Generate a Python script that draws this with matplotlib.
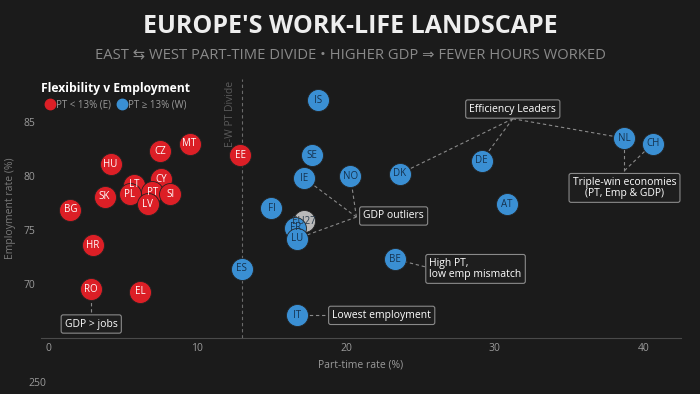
import matplotlib
matplotlib.use("Agg")
import matplotlib.pyplot as plt
from matplotlib.lines import Line2D

plt.rcParams['font.family'] = ['Open Sans', 'DejaVu Sans']

# country codes, part-time rate (%), employment rate (%)
codes = ['MT', 'CZ', 'HU', 'EE', 'CY', 'LT', 'PL', 'PT', 'SI', 'LV', 'SK', 'BG', 'HR', 'RO', 'EL',
         'ES', 'IS', 'SE', 'IE', 'NO', 'DK', 'FI', 'EU27', 'FR', 'LU', 'BE', 'IT', 'AT', 'DE', 'NL', 'CH']
part_time = [9.5, 7.5, 4.2, 12.9, 7.6, 5.8, 5.5, 7.0, 8.2, 6.7, 3.8, 1.5, 3.0, 2.9, 6.2,
             13.0, 18.1, 17.7, 17.2, 20.3, 23.6, 15.0, 17.2, 16.6, 16.7, 23.3, 16.7, 30.8, 29.1, 38.7, 40.6]
employment = [83.0, 82.3, 81.1, 81.9, 79.7, 79.2, 78.3, 78.5, 78.3, 77.4, 78.1, 76.9, 73.6, 69.5, 69.3,
              71.4, 87.0, 81.9, 79.8, 80.0, 80.2, 77.0, 75.8, 75.2, 74.2, 72.3, 67.1, 77.4, 81.4, 83.5, 83.0]
divide = 13

# annotation text, box centre, leader start, countries pointed at
notes = [
    ('Efficiency Leaders', (31.2, 86.2), (31.2, 85.3), ['DK', 'DE', 'NL']),
    ('Triple-win economies\n(PT, Emp & GDP)', (38.7, 78.9), (38.7, 80.5), ['NL', 'CH']),
    ('GDP outliers', (23.2, 76.3), (20.7, 76.2), ['IE', 'NO', 'LU']),
    ('High PT,\nlow emp mismatch', (28.7, 71.4), (25.3, 71.6), ['BE']),
    ('Lowest employment', (22.4, 67.1), (19.0, 67.1), ['IT']),
    ('GDP > jobs', (2.9, 66.3), (2.9, 67.4), ['RO']),
]

bg = '#1b1b1b'
red = '#dc1f26'
blue = '#3a8fd3'
grey = '#b9b9b9'

fig = plt.figure(figsize=(7, 3.94), dpi=100, facecolor=bg)
ax = fig.add_axes([0.058, 0.142, 0.915, 0.658], facecolor=bg)
ax.set_xlim(-0.5, 42.5)
ax.set_ylim(65, 89)

pos = {c: (x, y) for c, x, y in zip(codes, part_time, employment)}

# dashed leader lines
for text, box, (sx, sy), targets in notes:
    for t in targets:
        tx, ty = pos[t]
        ax.plot([sx, tx], [sy, ty], ls=(0, (3, 2.5)), color='#8a8a8a', lw=0.8, zorder=1)

ax.axvline(divide, ls=(0, (3, 2.5)), color='#6a6a6a', lw=0.8, zorder=0)
ax.text(divide - 0.35, 88.8, 'E-W PT Divide', rotation=90, ha='right', va='top',
        color='#5a5a5a', fontsize=7.5)

for c, x, y in zip(codes, part_time, employment):
    if c == 'EU27':
        fc, tc = grey, '#2a3a4a'
    elif x < divide:
        fc, tc = red, 'white'
    else:
        fc, tc = blue, '#15324f'
    ax.scatter(x, y, s=250, color=fc, edgecolor='#222222', linewidth=0.6, zorder=3)
    ax.text(x, y, c, ha='center', va='center', color=tc, fontsize=7, zorder=4)

for text, (bx, by), start, targets in notes:
    align = 'left' if text.startswith('High') else 'center'
    ax.text(bx, by, text, ha='center', va='center', color='white', fontsize=7.5,
            linespacing=0.95, multialignment=align, zorder=5,
            bbox=dict(boxstyle='round,pad=0.35,rounding_size=0.2', fc='#1e1e1e', ec='#8a8a8a', lw=0.8))

for s in ['top', 'right', 'left']:
    ax.spines[s].set_visible(False)
ax.spines['bottom'].set_color('#4a4a4a')
ax.set_xticks([0, 10, 20, 30, 40])
ax.set_yticks([70, 75, 80, 85])
ax.tick_params(colors='#9a9a9a', labelsize=7.5, length=0)
ax.set_xlabel('Part-time rate (%)', color='#9a9a9a', fontsize=7.5, labelpad=4)
ax.set_ylabel('Employment rate (%)', color='#7a7a7a', fontsize=7.5, labelpad=6)

fig.text(0.5, 0.932, "EUROPE'S WORK-LIFE LANDSCAPE", ha='center', va='center',
         color='#eeeeee', fontsize=18, fontweight='bold')
fig.text(0.5, 0.86, 'EAST \u21c6 WEST PART-TIME DIVIDE \u2022 HIGHER GDP \u21d2 FEWER HOURS WORKED',
         ha='center', va='center', color='#8a8a8a', fontsize=10.6)

handles = [Line2D([], [], marker='o', ls='', color=red, markersize=7.5),
           Line2D([], [], marker='o', ls='', color=blue, markersize=7.5)]
leg = fig.legend(handles, ['PT < 13% (E)', 'PT \u2265 13% (W)'], title='Flexibility v Employment',
                 loc='upper left', bbox_to_anchor=(0.052, 0.805), ncol=2, frameon=False,
                 handletextpad=0.1, columnspacing=0.6, fontsize=7, labelcolor='#9a9a9a',
                 borderpad=0, handlelength=1)
leg.get_title().set_color('white')
leg.get_title().set_fontweight('bold')
leg.get_title().set_fontsize(8.7)

fig.text(0.04, 0.02, '250', color='#9a9a9a', fontsize=7.5)

fig.savefig('out.png', dpi=100, facecolor=bg)
